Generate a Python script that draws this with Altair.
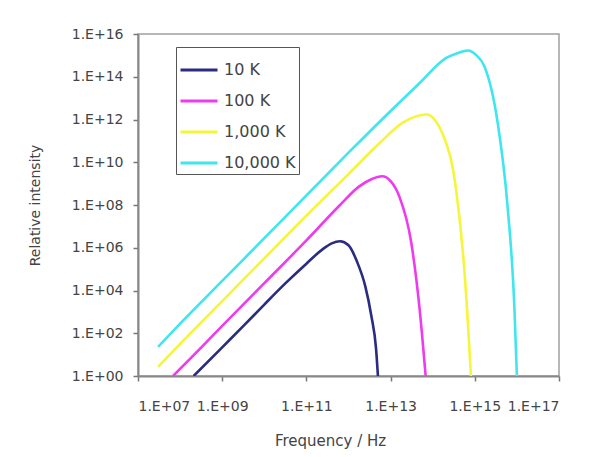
import altair as alt
import pandas as pd

series_names = ["10 K", "100 K", "1,000 K", "10,000 K"]
series_colors = ["#2b2b80", "#ee3bee", "#f5f53a", "#3fe6ee"]

x_ticks = [1e7, 1e9, 1e11, 1e13, 1e15, 1e17]
y_ticks = [1e0, 1e2, 1e4, 1e6, 1e8, 1e10, 1e12, 1e14, 1e16]

freq_10 = [2.1e8, 1.0e9, 3.2e9, 1.0e10, 3.2e10, 1.0e11, 2.5e11, 4.0e11, 6.3e11, 1.0e12, 1.6e12, 2.5e12, 3.5e12, 4.5e12, 5.0e12]
int_10 = [1, 22, 2.2e2, 2.2e3, 2.2e4, 1.8e5, 8.9e5, 1.6e6, 2.0e6, 1.3e6, 2.2e5, 1.6e4, 6.3e2, 20, 1]

freq_100 = [6.8e7, 3.2e8, 1.0e9, 1.0e10, 1.0e11, 6.3e11, 1.8e12, 3.5e12, 6.3e12, 1.0e13, 1.6e13, 3.1e13, 4.9e13, 6.8e13]
int_100 = [1, 22, 2.2e2, 2.2e4, 2.2e6, 1.0e8, 7.4e8, 1.6e9, 2.2e9, 1.3e9, 2.6e8, 1.7e6, 1.3e3, 1]

freq_1000 = [3.0e7, 1.0e8, 1.0e9, 1.0e10, 1.0e11, 1.0e12, 5.5e12, 1.9e13, 4.0e13, 7.1e13, 1.1e14, 1.7e14, 3.6e14, 5.8e14, 8.1e14]
int_1000 = [2.7, 32, 3.2e3, 3.2e5, 3.2e7, 2.8e9, 7.9e10, 6.9e11, 1.4e12, 1.7e12, 1.0e12, 2.3e11, 5.2e8, 4.7e4, 1]

freq_10000 = [3.0e7, 1.0e8, 1.0e9, 1.0e10, 1.0e11, 1.0e12, 1.0e13, 4.9e13, 2.1e14, 4.0e14, 6.8e14, 1.1e15, 1.7e15, 3.5e15, 6.0e15, 8.7e15, 1.0e16]
int_10000 = [23, 2.8e2, 2.8e4, 2.8e6, 2.8e8, 2.8e10, 2.5e12, 5.1e13, 7.6e14, 1.3e15, 1.7e15, 1.0e15, 3.0e14, 6.9e11, 8.7e7, 1.8e3, 1]

rows = []
for name, fs, vs in [
    ("10 K", freq_10, int_10),
    ("100 K", freq_100, int_100),
    ("1,000 K", freq_1000, int_1000),
    ("10,000 K", freq_10000, int_10000),
]:
    for i, (f, v) in enumerate(zip(fs, vs)):
        rows.append({"series": name, "freq": f, "intensity": v, "order": i})
df = pd.DataFrame(rows)

lbl = "'1.E+' + (round(log(datum.value)/LN10) < 10 ? '0' : '') + round(log(datum.value)/LN10)"
FONT = "DejaVu Sans"

chart = alt.Chart(df).mark_line(strokeWidth=2.6, interpolate="monotone", clip=True).encode(
    x=alt.X("freq:Q",
            scale=alt.Scale(type="log", domain=[1e7, 1e17]),
            axis=alt.Axis(values=x_ticks, labelExpr=lbl, title="Frequency / Hz",
                          labelPadding=18, titleX=192, titleY=64,
                          titleAlign="center", titleBaseline="middle", titleFontSize=15)),
    y=alt.Y("intensity:Q",
            scale=alt.Scale(type="log", domain=[1, 1e16]),
            axis=alt.Axis(values=y_ticks, labelExpr=lbl, title="Relative intensity",
                          labelPadding=10, titleX=-103, titleY=171, titleAngle=270,
                          titleAlign="center", titleBaseline="middle", titleFontSize=14)),
    color=alt.Color("series:N",
                    scale=alt.Scale(domain=series_names, range=series_colors),
                    sort=series_names,
                    legend=alt.Legend(title=None, orient="none", legendX=38, legendY=13,
                                      symbolType="stroke", symbolSize=1369, symbolStrokeWidth=3,
                                      labelFontSize=16, labelFont=FONT, labelColor="#444",
                                      strokeColor="#555", fillColor="white", padding=3,
                                      rowPadding=3, labelOffset=5)),
    order="order:Q",
).properties(
    width=421, height=342,
    autosize=alt.AutoSizeParams(type="none"),
    padding={"left": 130, "top": 26, "right": 39, "bottom": 73},
).configure_axis(
    labelFont=FONT, labelFontSize=14, labelColor="#444",
    titleFont=FONT, titleColor="#444", titleFontWeight="normal",
    tickColor="#777", tickSize=5, tickWidth=1.5,
    domainColor="#888", domainWidth=2, grid=False,
).configure_view(
    stroke="#a0a0a0", strokeWidth=1.5,
)

chart.save("out.html", embed_options={"renderer": "svg", "actions": False})
